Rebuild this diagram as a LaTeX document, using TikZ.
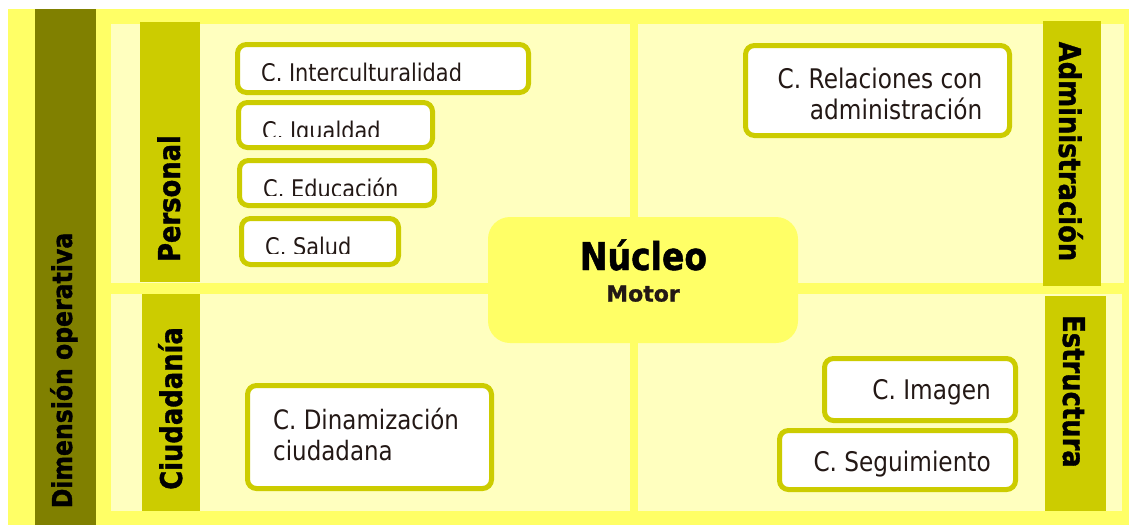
\documentclass[tikz,border=0pt]{standalone}
\usepackage{fontspec}
\setmainfont{DejaVu Sans}[FakeStretch=0.86]
\newfontfamily\widefont{DejaVu Sans}[FakeBold=1]
\newfontfamily\heavyfont{DejaVu Sans Bold}[FakeStretch=0.86, FakeBold=1.2]
\definecolor{outerY}{HTML}{FFFF66}
\definecolor{panelY}{HTML}{FFFFBF}
\definecolor{oliveD}{HTML}{808000}
\definecolor{barY}{HTML}{CCCC00}
\definecolor{txtC}{HTML}{231815}
\begin{document}
\begin{tikzpicture}[x=1pt,y=-1pt,
  boxst/.style={draw=barY, line width=5pt, fill=white, rounded corners=9pt, inner sep=0pt, outer sep=0pt},
  lbl/.style={inner sep=0pt, text=txtC},
  vlbl/.style={inner sep=0pt, font=\heavyfont\fontsize{30}{36}\selectfont, text=black, anchor=base},
  barst/.style={fill=barY, draw=none},
  panelst/.style={fill=panelY, draw=none},
]
\useasboundingbox (0,0) rectangle (1129,525);
% background
\fill[outerY] (8,9) rectangle (1129,525);
\fill[oliveD] (35,9) rectangle (96,525);
% panels
\fill[panelst] (111,24) rectangle (630,283);
\fill[panelst] (638,24) rectangle (1124,283);
\fill[panelst] (111,294) rectangle (630,511);
\fill[panelst] (638,294) rectangle (1122,511);
% side bars
\fill[barst] (140,22) rectangle (200,282);
\fill[barst] (142,294) rectangle (200,511);
\fill[barst] (1043,21) rectangle (1101,286);
\fill[barst] (1045,296) rectangle (1106,511);
% vertical labels
\node[vlbl, rotate=90, font=\heavyfont\fontsize{27.4}{32}\selectfont] (dim) at (72,370.5) {Dimensión operativa};
\node[vlbl, rotate=90] (pers) at (180,198.5) {Personal};
\node[vlbl, rotate=90] (ciud) at (182,408.5) {Ciudadanía};
\node[vlbl, rotate=-90] (admin) at (1059,151.5) {Administración};
\node[vlbl, rotate=-90] (estr) at (1063,391.5) {Estructura};
% nucleo
\node[fill=outerY, rounded corners=22pt, minimum width=310pt, minimum height=126pt, inner sep=0pt] (nucleo) at (643,280) {};
\node[inner sep=0pt, anchor=base, font=\heavyfont\fontsize{38.4}{44}\selectfont] (nuct) at (643.5,270) {Núcleo};
\node[inner sep=0pt, anchor=base, text=txtC, font=\widefont\bfseries\fontsize{22}{26}\selectfont] (motor) at (643,301.5) {Motor};
% personal boxes (text clipped)
\node[boxst, minimum width=291pt, minimum height=48pt] (inter) at (383,68.5) {};
\node[boxst, minimum width=194pt, minimum height=45pt] (igual) at (335.5,125) {};
\node[boxst, minimum width=195pt, minimum height=45pt] (educ) at (337,183) {};
\node[boxst, minimum width=157pt, minimum height=46pt] (salud) at (320,241.5) {};
\begin{scope}
\clip (240,46) rectangle (526,80);
\node[lbl, anchor=base west, font=\fontsize{24.3}{29}\selectfont] (tinter) at (261,81) {C. Interculturalidad};
\end{scope}
\begin{scope}
\clip (240,104) rectangle (431,136);
\node[lbl, anchor=base west, font=\fontsize{24.3}{29}\selectfont] (tigual) at (262,139) {C. Igualdad};
\end{scope}
\begin{scope}
\clip (241,162) rectangle (433,195);
\node[lbl, anchor=base west, font=\fontsize{24.3}{29}\selectfont] (teduc) at (263,197) {C. Educación};
\end{scope}
\begin{scope}
\clip (243,220) rectangle (397,253);
\node[lbl, anchor=base west, font=\fontsize{24.3}{29}\selectfont] (tsalud) at (265,255) {C. Salud};
\end{scope}
% administracion
\node[boxst, minimum width=264pt, minimum height=90pt] (rel) at (877.5,90.5) {};
\node[lbl, anchor=base east, font=\fontsize{27}{32}\selectfont] (trel1) at (982.5,88.3) {C. Relaciones con};
\node[lbl, anchor=base east, font=\fontsize{27}{32}\selectfont] (trel2) at (982.5,119.3) {administración};
% estructura
\node[boxst, minimum width=191pt, minimum height=62pt] (imagen) at (920,389.5) {};
\node[lbl, anchor=base east, font=\fontsize{27}{32}\selectfont] (timagen) at (991,399) {C. Imagen};
\node[boxst, minimum width=236pt, minimum height=59pt] (seg) at (897.5,460) {};
\node[lbl, anchor=base east, font=\fontsize{27}{32}\selectfont] (tseg) at (991,471.5) {C. Seguimiento};
% ciudadania
\node[boxst, minimum width=244pt, minimum height=103pt] (din) at (369.5,437) {};
\node[lbl, anchor=base west, font=\fontsize{26.7}{31}\selectfont] (tdin1) at (273,429.3) {C. Dinamización};
\node[lbl, anchor=base west, font=\fontsize{26.7}{31}\selectfont] (tdin2) at (273,460) {ciudadana};
\end{tikzpicture}
\end{document}
